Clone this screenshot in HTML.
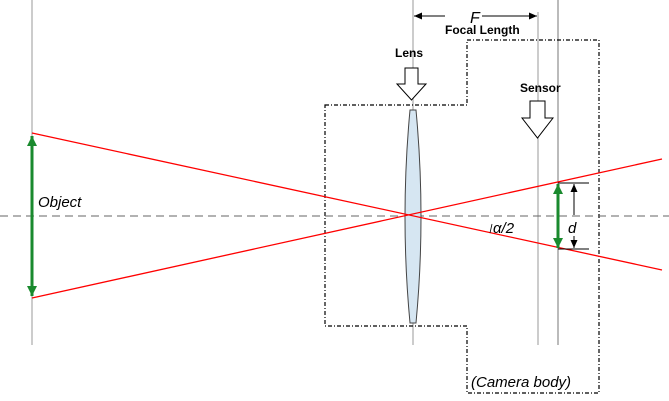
<!DOCTYPE html><html><head><style>body{margin:0;background:#fff}svg{display:block}text{font-family:"Liberation Sans",sans-serif}</style></head><body>
<svg width="669" height="401" viewBox="0 0 669 401">
<defs>
<marker id="g" markerWidth="10" markerHeight="12" refX="10" refY="6" orient="auto-start-reverse" markerUnits="userSpaceOnUse"><path d="M0,1L10,6L0,11z" fill="#1a8a2e"/></marker>
<marker id="b" markerWidth="8" markerHeight="8" refX="8" refY="4" orient="auto" markerUnits="userSpaceOnUse"><path d="M0,0.5L8,4L0,7.5z" fill="#000"/></marker>
</defs>
<g stroke="#bbb" stroke-width="1.5"><line x1="32" y1="0" x2="32" y2="345"/><line x1="413" y1="0" x2="413" y2="345"/><line x1="538" y1="12" x2="538" y2="345"/></g>
<line x1="558" y1="0" x2="558" y2="345" stroke="#777" stroke-width="1"/>
<path d="M325,105H467V40H599V393H467V326H325Z" fill="none" stroke="#000" stroke-width="1.2" stroke-dasharray="4,2,1,2"/>
<line x1="0" y1="216" x2="669" y2="216" stroke="#666" stroke-width="1" stroke-dasharray="8,5"/>
<path d="M410,110H416Q426,217 416,323H410Q400,217 410,110Z" fill="#d6e6f2" stroke="#444" stroke-width="1"/>
<g stroke="#f00" stroke-width="1.3"><line x1="32" y1="133" x2="662" y2="270"/><line x1="32" y1="298" x2="662" y2="159"/></g>
<line x1="32" y1="136" x2="32" y2="296" stroke="#1a8a2e" stroke-width="3" marker-start="url(#g)" marker-end="url(#g)"/>
<line x1="558" y1="184" x2="558" y2="248" stroke="#1a8a2e" stroke-width="3" marker-start="url(#g)" marker-end="url(#g)"/>
<g stroke="#000" stroke-width="1"><line x1="558" y1="183" x2="589" y2="183"/><line x1="558" y1="249" x2="589" y2="249"/>
<line x1="574" y1="215" x2="574" y2="184" marker-end="url(#b)"/><line x1="574" y1="236" x2="574" y2="248" marker-end="url(#b)"/>
<line x1="445" y1="16" x2="414" y2="16" marker-end="url(#b)"/><line x1="482" y1="16" x2="537" y2="16" marker-end="url(#b)"/></g>
<path d="M405,68H418V84H426L411.5,100L397,84H405Z" fill="#fff" stroke="#000" stroke-width="1"/>
<path d="M530,101H545V118H553L537.5,138L522,118H530Z" fill="#fff" stroke="#000" stroke-width="1"/>
<text x="470" y="23" font-size="16" font-style="italic">F</text>
<text x="445" y="34" font-size="12" font-weight="bold">Focal Length</text>
<text x="395" y="57" font-size="12" font-weight="bold">Lens</text>
<text x="520" y="92" font-size="12" font-weight="bold">Sensor</text>
<text x="38" y="207" font-size="15" font-style="italic">Object</text>
<line x1="490" y1="233" x2="492" y2="224" stroke="#000" stroke-width="0.8"/>
<text x="493" y="233" font-size="15" font-style="italic">α/2</text>
<text x="568" y="233" font-size="15" font-style="italic">d</text>
<text x="471" y="387" font-size="15" font-style="italic">(Camera body)</text>
</svg></body></html>
